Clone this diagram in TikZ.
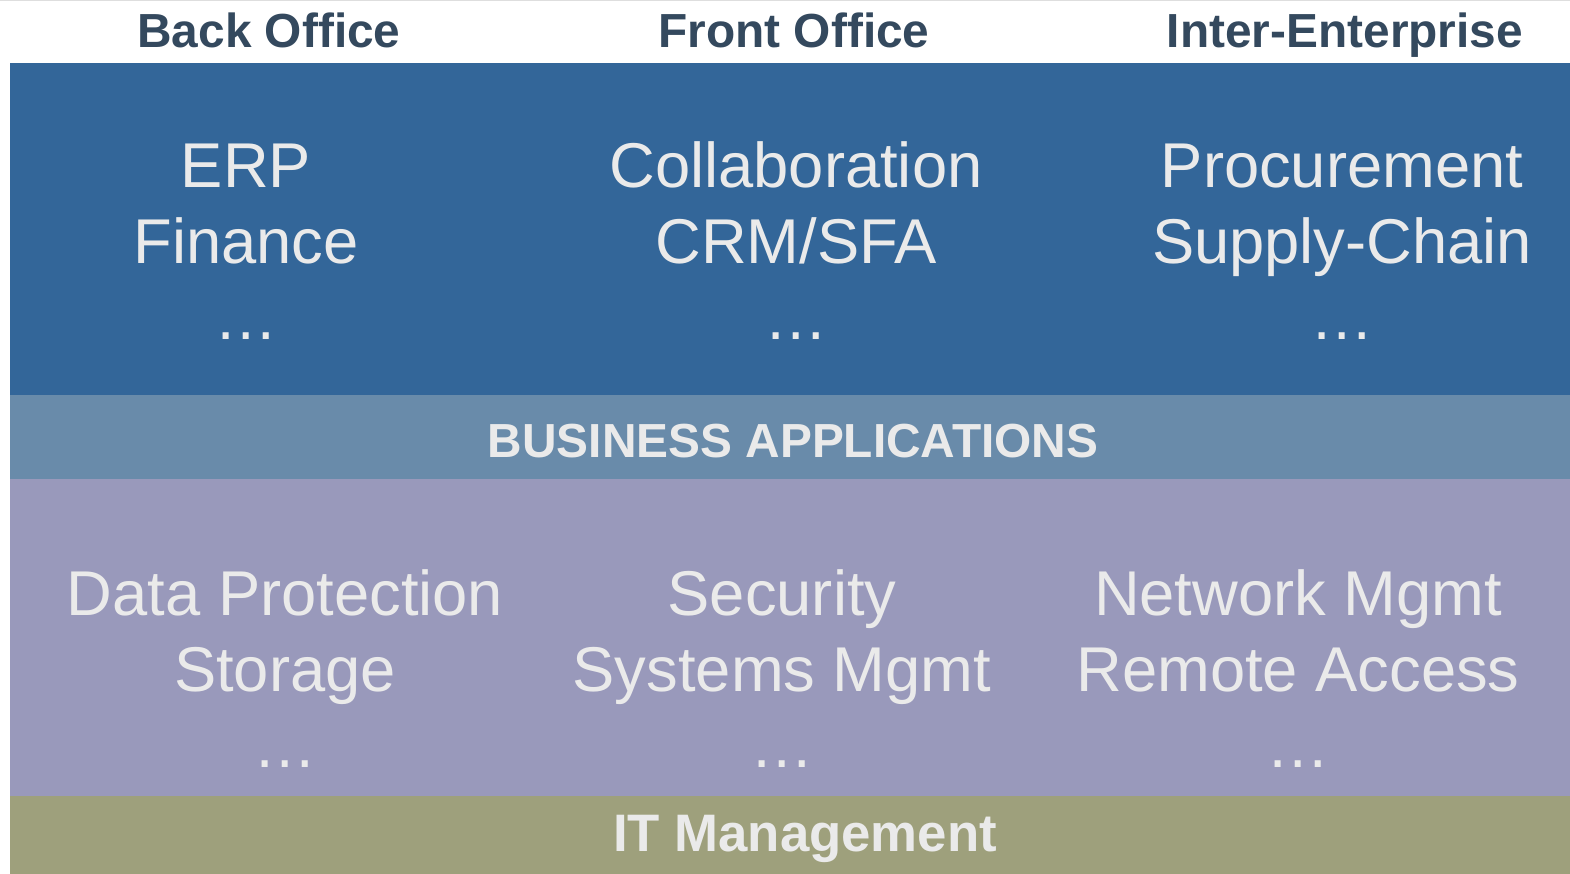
\documentclass[tikz,border=0pt]{standalone}
\usepackage{fontspec}
\setmainfont{Liberation Sans}
\definecolor{appblue}{HTML}{336699}
\definecolor{appbar}{HTML}{698BAA}
\definecolor{infra}{HTML}{9999BB}
\definecolor{mgmtbar}{HTML}{9EA07C}
\definecolor{headtext}{HTML}{34495E}
\definecolor{lighttext}{HTML}{EAEAEA}

\begin{document}
\begin{tikzpicture}[x=0.01cm,y=-0.01cm,
    head/.style={font=\fontsize{13.6}{16}\selectfont\bfseries,text=headtext,anchor=base,inner sep=0pt},
    item/.style={font=\fontsize{18}{21.6}\selectfont,text=lighttext,anchor=base,inner sep=0pt},
    barlabel/.style={font=\fontsize{13.6}{16}\selectfont\bfseries,text=lighttext,anchor=base,inner sep=0pt}]
        \useasboundingbox (0,0) rectangle (1570,874);
        \fill[white] (0,0) rectangle (1570,874);
        \draw[black!13,line width=0.02cm] (0,0) -- (1570,0);

        % bands
        \fill[appblue] (10,63) rectangle (1570,395);
        \fill[appbar] (10,395) rectangle (1570,479);
        \fill[infra] (10,479) rectangle (1570,796);
        \fill[mgmtbar] (10,796) rectangle (1570,874);

        % column heads
        \node[head] (back) at (269,48) {Back Office};
        \node[head] (front) at (794,48) {Front Office};
        \node[head] (inter) at (1345,48) {Inter-Enterprise};

        % business applications
        \foreach \x/\a/\b/\n in {246/ERP/Finance/bo, 796/Collaboration/CRM\slash SFA/fo,
            1342/Procurement/Supply-Chain/ie} {
          \node[item] (app-\n-a) at (\x,188) {\a};
          \node[item] (app-\n-b) at (\x,264) {\b};
          \node[item] (app-\n-c) at (\x,340) {…};
        }
        \node[barlabel] (apps) at (793,458) {BUSINESS APPLICATIONS};

        % it management
        \foreach \x/\a/\b/\n in {285/Data Protection/Storage/dp, 782/Security/Systems Mgmt/sec,
            1298/Network Mgmt/Remote Access/net} {
          \node[item] (it-\n-a) at (\x,616) {\a};
          \node[item] (it-\n-b) at (\x,692) {\b};
          \node[item] (it-\n-c) at (\x,768) {…};
        }
        \node[barlabel,font=\fontsize{15}{18}\selectfont\bfseries] (itm) at (805,852) {IT Management};
\end{tikzpicture}
\end{document}
